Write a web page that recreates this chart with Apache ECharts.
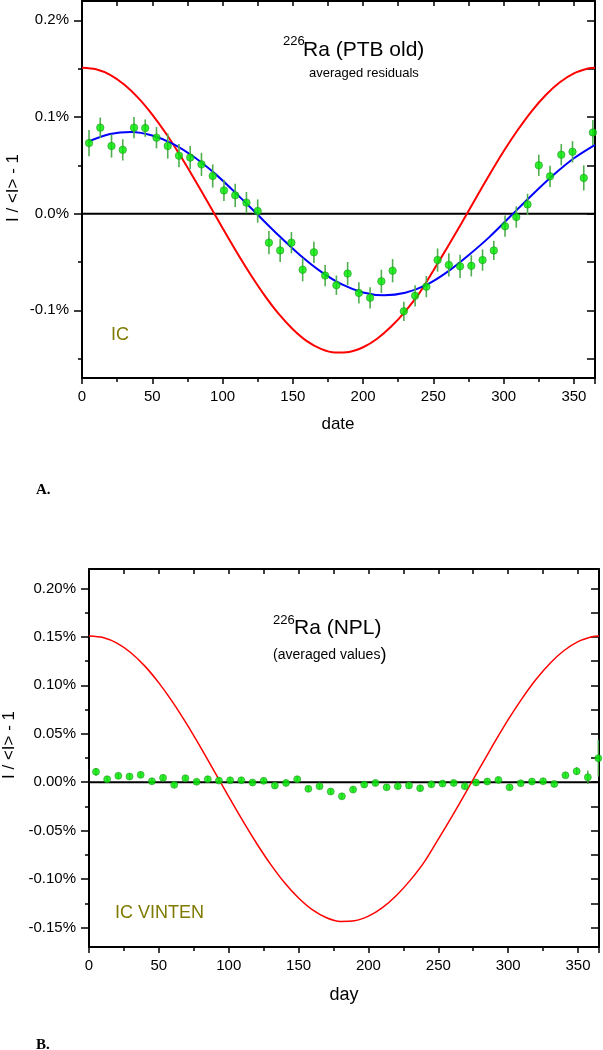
<!DOCTYPE html>
<html>
<head>
<meta charset="utf-8">
<script src="https://cdn.jsdelivr.net/npm/echarts@6/dist/echarts.min.js"></script>
<style>
html,body{margin:0;padding:0;background:#fff;}
#c{width:603px;height:1050px;}
</style>
</head>
<body>
<div id="c"></div>
<script>
// ---- data (values in %) ----
const topDays = [5,13,21,29,37,45,53,61,69,77,85,93,101,109,117,125,133,141,149,157,165,173,181,189,197,205,213,221,229,237,245,253,261,269,277,285,293,301,309,317,325,333,341,349,357,363.5];
const topVals = [0.073,0.089,0.070,0.066,0.089,0.0885,0.0786,0.070,0.060,0.058,0.051,0.039,0.024,0.019,0.0114,0.0027,-0.030,-0.038,-0.030,-0.058,-0.040,-0.064,-0.074,-0.062,-0.082,-0.087,-0.070,-0.059,-0.101,-0.085,-0.0755,-0.048,-0.053,-0.0545,-0.054,-0.048,-0.038,-0.013,-0.0035,0.0096,0.050,0.0386,0.061,0.064,0.037,0.084];
const topErrs = [0.0135,0.0105,0.012,0.011,0.011,0.009,0.011,0.013,0.012,0.012,0.012,0.012,0.011,0.012,0.011,0.012,0.012,0.012,0.011,0.012,0.011,0.011,0.010,0.012,0.011,0.011,0.012,0.012,0.010,0.011,0.011,0.012,0.012,0.012,0.011,0.011,0.010,0.011,0.011,0.011,0.011,0.011,0.011,0.011,0.013,0.013];

const botDays = [5,13,21,29,37,45,53,61,69,77,85,93,101,109,117,125,133,141,149,157,165,173,181,189,197,205,213,221,229,237,245,253,261,269,277,285,293,301,309,317,325,333,341,349,357,364.5];
const botVals = [0.0108,0.0031,0.0066,0.0059,0.0076,0.001,0.0045,-0.0027,0.0041,0.0004,0.0031,0.0017,0.002,0.002,-0.0003,0.0014,-0.0034,-0.0007,0.0031,-0.0068,-0.0041,-0.0096,-0.0145,-0.0076,-0.0024,-0.0007,-0.0052,-0.0041,-0.0034,-0.0062,-0.0021,-0.0014,-0.0007,-0.0041,-0.0003,0.0007,0.0024,-0.0052,-0.001,0.0007,0.001,-0.0017,0.0072,0.0114,0.0052,0.0248];
const botErrs = [0.004,0.003,0.003,0.003,0.003,0.003,0.003,0.003,0.003,0.003,0.003,0.003,0.003,0.003,0.003,0.003,0.003,0.003,0.003,0.003,0.003,0.003,0.003,0.003,0.003,0.003,0.003,0.003,0.003,0.003,0.003,0.003,0.003,0.003,0.003,0.003,0.003,0.003,0.003,0.003,0.003,0.003,0.003,0.004,0.007,0.019];

const redDays = [0,10,20,30,40,50,60,70,80,90,100,110,120,130,140,150,160,170,180,190,200,210,220,230,240,250,260,270,280,290,300,310,320,330,340,350,360,365];
const redVals = [0.1510,0.1494,0.1436,0.1336,0.1198,0.1025,0.0824,0.0599,0.0357,0.0105,-0.0149,-0.0397,-0.0632,-0.0847,-0.1037,-0.1195,-0.1318,-0.1398,-0.1436,-0.1430,-0.1382,-0.1294,-0.1168,-0.1010,-0.0822,-0.0588,-0.0347,-0.0098,0.0155,0.0405,0.0645,0.0865,0.1062,0.1228,0.1359,0.1451,0.1501,0.1509];

const blueDays = [5,20,35,50,65,80,95,110,125,140,155,170,185,200,215,230,245,260,275,290,305,320,335,350,365];
const blueVals = [0.0749,0.0824,0.0845,0.0809,0.0720,0.0583,0.0409,0.0205,-0.0011,-0.0226,-0.0427,-0.0599,-0.0732,-0.0815,-0.0845,-0.0819,-0.0737,-0.0602,-0.0430,-0.0240,-0.0025,0.0191,0.0395,0.0573,0.0712];

const xLabelTicks = [0,50,100,150,200,250,300,350];
const topYLabels = [-0.1,0,0.1,0.2];
const topYMinor = [-0.15,-0.05,0.05,0.15];
const botYLabels = [-0.15,-0.10,-0.05,0,0.05,0.10,0.15,0.20];
const botYMinor = [-0.125,-0.075,-0.025,0.025,0.075,0.125,0.175];

// ---- chart ----
const chart = echarts.init(document.getElementById('c'), null, {renderer:'canvas'});
const FONT = 'Liberation Sans, Arial, sans-serif';
const Y_MIN = -0.17, Y_MAX = 0.22;
const black = '#000';

function xAxes(gi){
  return [
    {gridIndex:gi, type:'value', position:'bottom', min:0, max:365, interval:50,
     axisLine:{show:true, onZero:false, lineStyle:{color:black, width:2}},
     axisTick:{show:true, inside:false, length:6, lineStyle:{color:black, width:1.5}},
     minorTick:{show:true, splitNumber:2, length:4, lineStyle:{color:black, width:1.5}},
     axisLabel:{show:true, margin:11, color:black, fontSize:15, fontFamily:FONT,
       customValues:xLabelTicks},
     splitLine:{show:false}},
    {gridIndex:gi, type:'value', position:'top', min:0, max:365, interval:50,
     axisLine:{show:true, onZero:false, lineStyle:{color:black, width:2}},
     axisTick:{show:true, inside:true, length:5, lineStyle:{color:black, width:1.5}},
     minorTick:{show:true, splitNumber:2, length:5, lineStyle:{color:black, width:1.5}},
     axisLabel:{show:false}, splitLine:{show:false}}
  ];
}
function yAxes(gi, labels, minor, dec, majorLen){
  const all = labels.concat(minor);
  return [
    {gridIndex:gi, type:'value', position:'left', min:Y_MIN, max:Y_MAX,
     axisLine:{show:true, onZero:false, lineStyle:{color:black, width:2}},
     axisTick:{show:true, inside:false, length:majorLen, customValues:labels, lineStyle:{color:black, width:1.5}},
     axisLabel:{show:true, margin:13, color:black, fontSize:15, fontFamily:FONT, customValues:labels,
       formatter:v=>v.toFixed(dec)+'%'},
     splitLine:{show:false}},
    {gridIndex:gi, type:'value', position:'left', min:Y_MIN, max:Y_MAX,
     axisLine:{show:false},
     axisTick:{show:true, inside:false, length:4, customValues:minor, lineStyle:{color:black, width:1.5}},
     axisLabel:{show:false}, splitLine:{show:false}},
    {gridIndex:gi, type:'value', position:'right', min:Y_MIN, max:Y_MAX,
     axisLine:{show:true, onZero:false, lineStyle:{color:black, width:2}},
     axisTick:{show:true, inside:true, length:8, customValues:all, lineStyle:{color:black, width:1.5}},
     axisLabel:{show:false}, splitLine:{show:false}}
  ];
}

function errSeries(xi, yi, days, vals, errs, color, w){
  return {type:'custom', xAxisIndex:xi, yAxisIndex:yi, clip:true, z:3,
    data: days.map((d,i)=>[d, vals[i], errs[i]]),
    encode:{x:0, y:1},
    renderItem:(params, api)=>{
      const x=api.value(0), y=api.value(1), e=api.value(2);
      const p1=api.coord([x,y-e]), p2=api.coord([x,y+e]);
      return {type:'line', shape:{x1:p1[0],y1:p1[1],x2:p2[0],y2:p2[1]},
        style:{stroke:color, lineWidth:w}};
    }};
}
function pts(xi, yi, days, vals, size){
  return {type:'scatter', xAxisIndex:xi, yAxisIndex:yi, symbol:'circle', symbolSize:size, z:4,
    itemStyle:{color:'#00e800', borderColor:'#1f8f1f', borderWidth:0.7},
    data: days.map((d,i)=>[d, vals[i]])};
}
function curve(xi, yi, days, vals, color, w){
  return {type:'line', xAxisIndex:xi, yAxisIndex:yi, smooth:0.3, symbol:'none', z:2,
    lineStyle:{color:color, width:w}, data: days.map((d,i)=>[d, vals[i]])};
}
function zeroLine(xi, yi, w){
  return {type:'line', xAxisIndex:xi, yAxisIndex:yi, symbol:'none', z:1,
    lineStyle:{color:black, width:w}, data:[[0,0],[365,0]]};
}

const option = {
  animation:false,
  grid:[
    {left:82, top:1, width:513, height:377},
    {left:89, top:569, width:510, height:378}
  ],
  xAxis: xAxes(0).concat(xAxes(1)),
  yAxis: yAxes(0, topYLabels, topYMinor, 1, 8).concat(yAxes(1, botYLabels, botYMinor, 2, 8)),
  series:[
    zeroLine(0,0,2),
    curve(0,0,redDays,redVals,'#ff0000',2),
    curve(0,0,blueDays,blueVals,'#0000ff',2),
    errSeries(0,0,topDays,topVals,topErrs,'#4fae4f',1.6),
    pts(0,0,topDays,topVals,7.5),
    zeroLine(2,3,2),
    curve(2,3,redDays,redVals,'#ff0000',1.5),
    errSeries(2,3,botDays,botVals,botErrs,'#3f9f3f',1.3),
    pts(2,3,botDays,botVals,7)
  ],
  graphic:[
    {type:'text', x:283, y:41, style:{text:'226', font:'13px '+FONT, fill:black, textVerticalAlign:'middle'}},
    {type:'text', x:303, y:50, style:{text:'Ra (PTB old)', font:'21px '+FONT, fill:black, textVerticalAlign:'middle'}},
    {type:'text', x:309, y:73, style:{text:'averaged residuals', font:'13px '+FONT, fill:black, textVerticalAlign:'middle'}},
    {type:'text', x:111, y:335, style:{text:'IC', font:'18px '+FONT, fill:'#7f7a00', textVerticalAlign:'middle'}},
    {type:'text', x:338, y:424, style:{text:'date', font:'17px '+FONT, fill:black, textAlign:'center', textVerticalAlign:'middle'}},
    {type:'text', x:13, y:188, rotation:Math.PI/2, style:{text:'I / <I> - 1', font:'17px '+FONT, fill:black, textAlign:'center', textVerticalAlign:'middle'}},
    {type:'text', x:36, y:490, style:{text:'A.', font:'bold 15px Liberation Serif, serif', fill:black, textVerticalAlign:'middle'}},

    {type:'text', x:273, y:620, style:{text:'226', font:'13px '+FONT, fill:black, textVerticalAlign:'middle'}},
    {type:'text', x:294, y:628, style:{text:'Ra (NPL)', font:'21px '+FONT, fill:black, textVerticalAlign:'middle'}},
    {type:'text', x:273, y:655, style:{text:'{a|(averaged values}{b|)}', fill:black, textVerticalAlign:'middle',
      rich:{a:{font:'14px '+FONT, fill:black}, b:{font:'18px '+FONT, fill:black}}}},
    {type:'text', x:115, y:913, style:{text:'IC VINTEN', font:'18px '+FONT, fill:'#7f7a00', textVerticalAlign:'middle'}},
    {type:'text', x:344, y:995, style:{text:'day', font:'18px '+FONT, fill:black, textAlign:'center', textVerticalAlign:'middle'}},
    {type:'text', x:9, y:745, rotation:Math.PI/2, style:{text:'I / <I> - 1', font:'17px '+FONT, fill:black, textAlign:'center', textVerticalAlign:'middle'}},
    {type:'text', x:36, y:1045, style:{text:'B.', font:'bold 15px Liberation Serif, serif', fill:black, textVerticalAlign:'middle'}}
  ]
};
chart.setOption(option);
</script>
</body>
</html>
